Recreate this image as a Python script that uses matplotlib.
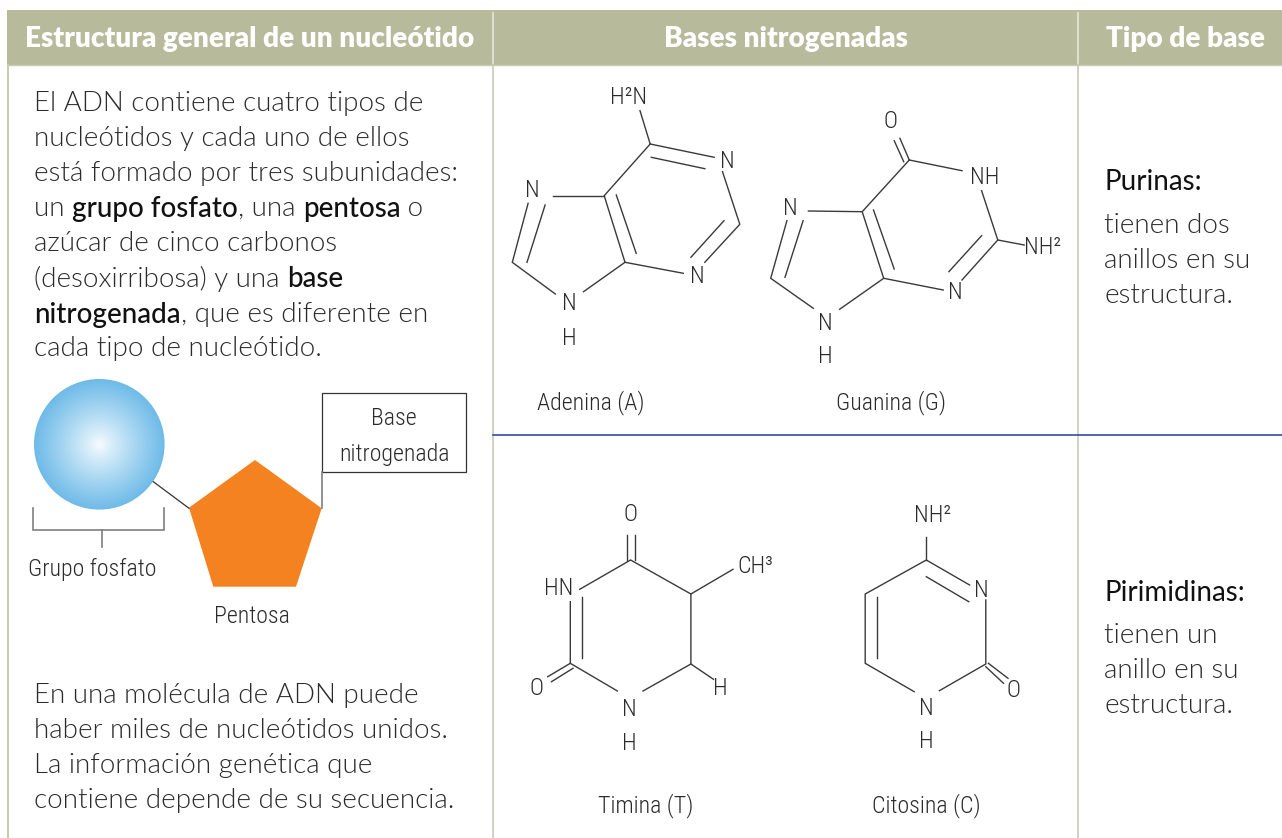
import numpy as np
import matplotlib
matplotlib.use("Agg")
import matplotlib.pyplot as plt
from matplotlib.patches import Circle, Polygon, Rectangle

BODY_FONT   = "Lato"
NARROW_FONT = ["Roboto Condensed", "Liberation Sans"]

HEADER_BG  = "#B7BB9B"
RULE_COLOR = "#C9CCB3"
BLUE_RULE  = "#1F3F96"
INK        = "#2B2B2B"
BOND_COLOR = "#3A3A3A"

# ── table text ────────────────────────────────────────────────────────────────
headers = [
    ("Estructura general de un nucleótido", 250),
    ("Bases nitrogenadas", 786),
    ("Tipo de base", 1185.5),
]

# each line is a list of (text, emphasised) runs
intro_lines = [
    [("El ADN contiene cuatro tipos de", False)],
    [("nucleótidos y cada uno de ellos", False)],
    [("está formado por tres subunidades:", False)],
    [("un ", False), ("grupo fosfato", True), (", una ", False), ("pentosa", True), (" o", False)],
    [("azúcar de cinco carbonos", False)],
    [("(desoxirribosa) y una ", False), ("base", True)],
    [("nitrogenada", True), (", que es diferente en", False)],
    [("cada tipo de nucleótido.", False)],
]
intro_y = [101, 136, 171, 206, 241, 276, 312, 346]

outro_lines = [
    "En una molécula de ADN puede",
    "haber miles de nucleótidos unidos.",
    "La información genética que",
    "contiene depende de su secuencia.",
]
outro_y = [693, 728, 763, 798]

type_titles = [("Purinas:", 180), ("Pirimidinas:", 590)]
type_lines = [
    ("tienen dos", 223), ("anillos en su", 258), ("estructura.", 293),
    ("tienen un", 633), ("anillo en su", 668), ("estructura.", 703),
]

# ── nucleotide sketch ─────────────────────────────────────────────────────────
phosphate_center = (99.3, 444.3)
phosphate_radius = 65.3
pentose_pts = [(255, 460), (321.7, 508.3), (296, 586.7), (213.3, 586.7), (189, 507.7)]
dark_links = [[(153.3, 481.7), (189, 508.3)]]
grey_links = [
    [(33.3, 508.3), (33.3, 530), (164.3, 530), (164.3, 508.3)],
    [(101.7, 530), (101.7, 547.3)],
    [(321.7, 472), (321.7, 508.3)],
]
base_box = (322, 392.7, 144, 79.3)
sketch_labels = [
    ("Grupo fosfato", 92, 569),
    ("Pentosa", 252.3, 616),
    ("Base", 394.3, 418),
    ("nitrogenada", 394.3, 454),
]

# ── molecules: bonds then atom labels ─────────────────────────────────────────
adenine_bonds = [
    [(640, 110.7), (650.2, 144)],
    [(650.2, 144), (714.2, 157.3)],
    [(651.3, 157.3), (704.8, 168.7)],
    [(722.5, 171.7), (739.8, 224.3), (704.8, 262.3)],
    [(724, 220.7), (690.9, 257.3)],
    [(683.3, 273.3), (625, 262.3), (604.2, 195.7), (650.2, 144)],
    [(636.2, 253.3), (616.3, 195)],
    [(604.2, 195.7), (553.4, 195.7)],
    [(528.1, 203.3), (512.3, 262.3), (555.3, 294)],
    [(545.1, 205), (527, 262.3)],
    [(583.5, 291.7), (625, 262.3)],
]
guanine_bonds = [
    [(909.3, 160), (899.9, 138.3)],
    [(903.7, 161.7), (894.2, 140.7)],
    [(909.3, 160), (962, 170.7)],
    [(981.6, 190.7), (997.8, 240), (1024.2, 245)],
    [(997.8, 240), (962, 280)],
    [(981.6, 235.7), (948.9, 271.7)],
    [(943.2, 290), (883.7, 278.3), (862.2, 211.7), (909.3, 160)],
    [(894.2, 269), (873.5, 210)],
    [(862.2, 211.7), (808.4, 211)],
    [(786.9, 220.7), (770.7, 278.3), (813.3, 308.3)],
    [(803.1, 220.7), (785, 277.3)],
    [(839.6, 309.3), (883.7, 278.3)],
]
thymine_bonds = [
    [(626.8, 535), (626.8, 560)],
    [(635.1, 535), (635.1, 560)],
    [(579.7, 589.3), (630.6, 560), (690.9, 594), (733, 569.3)],
    [(690.9, 594), (690.9, 664), (713.5, 679.3)],
    [(690.9, 664), (643, 691)],
    [(617.4, 691), (570.3, 663.3), (570.3, 601.7)],
    [(582.4, 658.3), (582.4, 597.3)],
    [(570.3, 663.3), (547.7, 676.7)],
    [(573, 668.3), (551.5, 681.7)],
]
cytosine_bonds = [
    [(926.3, 536.7), (926.3, 560)],
    [(969.6, 585), (926.3, 560), (865.2, 594), (865.2, 663.3), (914.2, 691.7)],
    [(926.3, 576.7), (968.8, 601.7)],
    [(877.3, 658.3), (877.3, 596.7)],
    [(985.8, 600), (985.8, 664), (939.4, 690.7)],
    [(988.4, 663.3), (1008, 678.3)],
    [(985.8, 666.7), (1003.5, 683.3)],
]
atom_labels = [
    ("H²N", 629, 98), ("N", 727.8, 162), ("N", 697.3, 276.5), ("N", 531.9, 190.5),
    ("N", 569.6, 303.5), ("H", 569.6, 338),
    ("O", 890.5, 122), ("NH", 984.6, 178), ("NH²", 1043, 247), ("N", 955.6, 292.5),
    ("N", 790.7, 208), ("N", 825.7, 323), ("H", 825.7, 356.5),
    ("O", 630.6, 514.5), ("CH³", 755, 566), ("H", 720.2, 688), ("N", 629.8, 709.5),
    ("H", 629.8, 743), ("O", 536.4, 688.5), ("HN", 559, 588.5),
    ("NH²", 933, 515), ("N", 981.6, 590), ("O", 1013.7, 690.5), ("N", 926.3, 708),
    ("H", 926.3, 741),
]
base_names = [
    ("Adenina (A)", 591, 403), ("Guanina (G)", 890.5, 403),
    ("Timina (T)", 645.7, 806), ("Citosina (C)", 926.3, 806),
]

# ── figure in pixel coordinates ───────────────────────────────────────────────
fig = plt.figure(figsize=(12.82, 8.38), dpi=100)
ax = fig.add_axes([0, 0, 1, 1])
ax.axis("off")

ax.add_patch(Rectangle((7, 10), 1275, 55, fc=HEADER_BG, ec="none"))
for x in [492.5, 1078]:
    ax.plot([x, x], [13, 63], color="#E6E7DB", lw=1.2)
    ax.plot([x, x], [65, 838], color=RULE_COLOR, lw=1.2)
ax.plot([7.5, 7.5], [65, 838], color=RULE_COLOR, lw=1.4)
ax.plot([7, 1282], [65.5, 65.5], color=RULE_COLOR, lw=1)
ax.plot([493, 1282], [434.5, 434.5], color=BLUE_RULE, lw=1.1)

for text, x in headers:
    ax.text(x, 39, text, color="white", fontsize=20.1, fontweight=800,
            family=BODY_FONT, ha="center", va="center")


def text_width(s, **kw):
    # trailing spaces are not measured, so bracket the run with a bar
    r = fig.canvas.get_renderer()
    a = ax.text(0, 0, "|" + s + "|", **kw)
    b = ax.text(0, 0, "||", **kw)
    w = a.get_window_extent(r).width - b.get_window_extent(r).width
    a.remove()
    b.remove()
    return w


def body_text(x, y, s, weight=300, size=19.95):
    kw = dict(fontsize=size, family=BODY_FONT, color="#111111" if weight > 300 else INK,
              fontweight=weight)
    ax.text(x, y, s, ha="left", va="center_baseline", **kw)
    return x + text_width(s, **kw)


ax.set_xlim(0, 1282)
ax.set_ylim(838, 0)

for runs, y in zip(intro_lines, intro_y):
    x = 34
    for s, strong in runs:
        x = body_text(x, y, s, 500 if strong else 300)
for s, y in zip(outro_lines, outro_y):
    body_text(34, y, s)
for s, y in type_titles:
    body_text(1104.5, y, s, weight=400)
for s, y in type_lines:
    body_text(1104.5, y, s)

# sphere shaded from the centre out
cx, cy = phosphate_center
gx, gy = np.meshgrid(np.linspace(-1, 1, 300), np.linspace(-1, 1, 300))
rad = np.clip(np.hypot(gx, gy), 0, 1)[..., None]
inner = np.array([0.97, 0.99, 1.0])
outer = np.array([0.43, 0.73, 0.91])
shade = inner + (outer - inner) * rad ** 0.9
im = ax.imshow(shade, aspect="auto", zorder=2,
               extent=(cx - phosphate_radius, cx + phosphate_radius,
                       cy + phosphate_radius, cy - phosphate_radius))
im.set_clip_path(Circle(phosphate_center, phosphate_radius, transform=ax.transData))
ax.set_xlim(0, 1282)
ax.set_ylim(838, 0)

ax.add_patch(Polygon(pentose_pts, closed=True, fc="#F58220", ec="none", zorder=2))
for pts in dark_links:
    ax.plot(*zip(*pts), color="#333333", lw=0.9)
for pts in grey_links:
    ax.plot(*zip(*pts), color="#7F7F7F", lw=1.2, solid_joinstyle="miter")
x0, y0, w, h = base_box
ax.add_patch(Rectangle((x0, y0), w, h, fc="none", ec="#333333", lw=0.9))

label_kw = dict(family=NARROW_FONT, fontweight=300, fontsize=17.2, color=INK, ha="center", va="center")
for s, x, y in sketch_labels:
    ax.text(x, y, s, **label_kw)

for bonds in [adenine_bonds, guanine_bonds, thymine_bonds, cytosine_bonds]:
    for pts in bonds:
        ax.plot(*zip(*pts), color=BOND_COLOR, lw=1.0, solid_joinstyle="miter")
for s, x, y in atom_labels:
    ax.text(x, y, s, **label_kw)
for s, x, y in base_names:
    ax.text(x, y, s, **label_kw)

fig.savefig("out.png", dpi=100)
